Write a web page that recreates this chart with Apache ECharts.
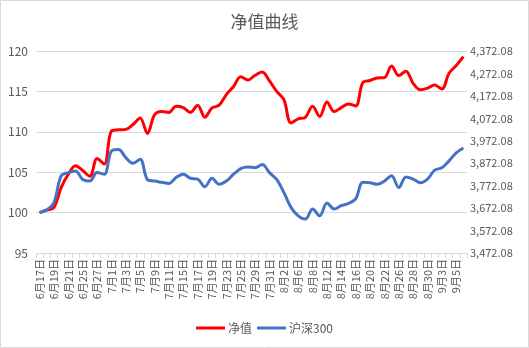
<!DOCTYPE html>
<html>
<head>
<meta charset="utf-8">
<script src="https://cdn.jsdelivr.net/npm/echarts@6/dist/echarts.min.js"></script>
<style>
  html, body { margin: 0; padding: 0; background: #fff; }
  #chart { width: 529px; height: 348px; }
</style>
</head>
<body>
<div id="chart"></div>
<script>
// Trading days, 2019-06-17 to 2019-09-06
const categories = [
  '6月17日','6月18日','6月19日','6月20日','6月21日',
  '6月24日','6月25日','6月26日','6月27日','6月28日',
  '7月1日','7月2日','7月3日','7月4日','7月5日',
  '7月8日','7月9日','7月10日','7月11日','7月12日',
  '7月15日','7月16日','7月17日','7月18日','7月19日',
  '7月22日','7月23日','7月24日','7月25日','7月26日',
  '7月29日','7月30日','7月31日','8月1日','8月2日',
  '8月5日','8月6日','8月7日','8月8日','8月9日',
  '8月12日','8月13日','8月14日','8月15日','8月16日',
  '8月19日','8月20日','8月21日','8月22日','8月23日',
  '8月26日','8月27日','8月28日','8月29日','8月30日',
  '9月2日','9月3日','9月4日','9月5日','9月6日'
];

// Fund net value (left axis)
const navValues = [
  100.0, 100.3, 100.65, 103.1, 104.75,
  105.8, 105.2, 104.5, 106.7, 106.0,
  110.1, 110.25, 110.3, 110.9, 111.7,
  109.8, 112.1, 112.5, 112.4, 113.15,
  113.0, 112.4, 113.3, 111.8, 112.95,
  113.3, 114.6, 115.6, 116.8, 116.4,
  117.0, 117.4, 116.3, 115.0, 114.0,
  111.1, 111.6, 111.8, 113.15, 111.9,
  113.7, 112.5, 113.0, 113.45, 113.2,
  116.1, 116.35, 116.65, 116.7, 118.15,
  116.97, 117.5, 116.0, 115.2, 115.4,
  115.8, 115.3, 117.25, 118.2, 119.3
];

// CSI 300 index close (right axis)
const csiValues = [
  3652.1, 3664.7, 3697.1, 3815.9, 3830.3,
  3837.5, 3799.7, 3792.5, 3830.3, 3823.1,
  3925.7, 3932.9, 3896.9, 3871.7, 3889.7,
  3799.7, 3792.5, 3787.1, 3781.7, 3808.7,
  3823.1, 3805.1, 3801.5, 3767.3, 3805.1,
  3778.1, 3792.5, 3823.1, 3848.3, 3855.5,
  3851.9, 3866.3, 3830.3, 3799.7, 3742.1,
  3675.5, 3637.7, 3623.3, 3668.3, 3637.7,
  3695.3, 3668.3, 3682.7, 3693.5, 3713.3,
  3787.1, 3785.3, 3778.1, 3792.5, 3815.9,
  3763.7, 3810.5, 3801.5, 3785.3, 3801.5,
  3841.1, 3851.9, 3882.5, 3918.5, 3940.1
];

// Axis ranges
const leftAxisRange = { min: 95, max: 120, step: 5 };
const rightAxisRange = { min: 3472.08, max: 4372.08, step: 100 };

const textColor = '#595959';
const lineGray = '#d9d9d9';
const font = '"Noto Sans CJK SC", "Noto Sans", sans-serif';

function withThousands(v) {
  const parts = (Math.round(v * 100) / 100).toFixed(2).split('.');
  parts[0] = parts[0].replace(/\B(?=(\d{3})+(?!\d))/g, ',');
  return parts.join('.');
}

const chart = echarts.init(document.getElementById('chart'), null, { renderer: 'canvas' });

chart.setOption({
  animation: false,
  backgroundColor: '#fff',
  textStyle: { fontFamily: font },
  graphic: [{
    type: 'rect',
    shape: { x: 0.5, y: 0.5, width: 528, height: 347 },
    style: { fill: 'none', stroke: lineGray, lineWidth: 1 },
    silent: true
  }],
  title: {
    text: '净值曲线',
    left: 'center',
    top: 8,
    textStyle: { fontFamily: font, fontSize: 17, fontWeight: 'normal', color: textColor }
  },
  legend: {
    bottom: 9,
    left: 'center',
    itemWidth: 29,
    itemHeight: 3,
    itemGap: 5,
    icon: 'rect',
    textStyle: { fontFamily: font, fontSize: 12, color: textColor, padding: [0, 0, 0, -2] },
    data: ['净值', '沪深300']
  },
  grid: { left: 36, right: 62, top: 51, bottom: 95, containLabel: false },
  xAxis: {
    type: 'category',
    data: categories,
    boundaryGap: true,
    axisLine: { lineStyle: { color: lineGray, width: 1 } },
    axisTick: { show: true, alignWithLabel: false, interval: 0, length: 5, lineStyle: { color: lineGray } },
    axisLabel: {
      interval: 1,
      rotate: 90,
      fontSize: 11,
      color: textColor,
      margin: 6,
      fontFamily: font
    },
    splitLine: { show: false }
  },
  yAxis: [
    {
      type: 'value',
      min: leftAxisRange.min,
      max: leftAxisRange.max,
      interval: leftAxisRange.step,
      axisLine: { show: false },
      axisTick: { show: false },
      axisLabel: { fontSize: 12, color: textColor, margin: 8, fontFamily: font },
      splitLine: { show: true, lineStyle: { color: lineGray, width: 1 } }
    },
    {
      type: 'value',
      min: rightAxisRange.min,
      max: rightAxisRange.max,
      interval: rightAxisRange.step,
      position: 'right',
      axisLine: { show: false },
      axisTick: { show: false },
      splitLine: { show: false },
      axisLabel: {
        fontSize: 11,
        color: textColor,
        margin: 3,
        fontFamily: font,
        formatter: withThousands
      }
    }
  ],
  series: [
    {
      name: '净值',
      type: 'line',
      yAxisIndex: 0,
      data: navValues,
      smooth: 0.35,
      symbol: 'none',
      itemStyle: { color: '#ff0000' },
      lineStyle: { color: '#ff0000', width: 3 }
    },
    {
      name: '沪深300',
      type: 'line',
      yAxisIndex: 1,
      data: csiValues,
      smooth: 0.35,
      symbol: 'none',
      itemStyle: { color: '#4472c4' },
      lineStyle: { color: '#4472c4', width: 3 }
    }
  ]
});
</script>
</body>
</html>
